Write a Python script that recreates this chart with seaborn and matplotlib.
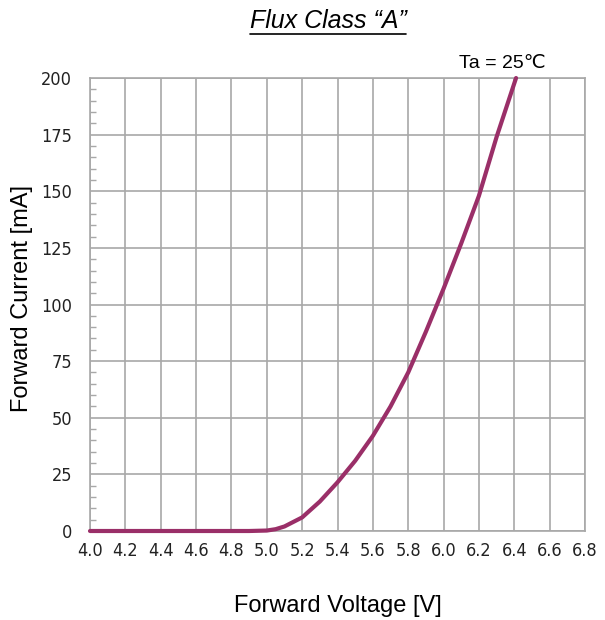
import matplotlib
matplotlib.use("Agg")
import matplotlib.pyplot as plt
from matplotlib.lines import Line2D
from matplotlib.ticker import MultipleLocator
from matplotlib import font_manager
import seaborn as sns
import pandas as pd

# Forward voltage (V) vs forward current (mA), Ta = 25 °C
voltage = [4.0, 4.5, 4.9, 5.0, 5.05, 5.1, 5.2, 5.3, 5.4, 5.5, 5.6, 5.7,
           5.8, 5.9, 6.0, 6.1, 6.2, 6.3, 6.41]
current = [0, 0, 0, 0.2, 0.8, 2, 6, 13, 21.5, 31, 42, 55,
           70, 88, 107, 127, 148, 174, 200]

x_ticks = [4.0, 4.2, 4.4, 4.6, 4.8, 5.0, 5.2, 5.4, 5.6, 5.8, 6.0, 6.2, 6.4, 6.6, 6.8]
y_ticks = [0, 25, 50, 75, 100, 125, 150, 175, 200]

sns.set_style("white")
plt.rcParams["font.family"] = ["Liberation Sans", "DejaVu Sans"]
plt.rcParams["text.color"] = "black"
plt.rcParams["axes.labelcolor"] = "black"

# narrow face for tick numbers
names = {f.name for f in font_manager.fontManager.ttflist}
if "Liberation Sans Narrow" in names:
    tick_props = dict(family="Liberation Sans Narrow")
else:
    tick_props = dict(family="DejaVu Sans", stretch="condensed")

df = pd.DataFrame({"Forward Voltage [V]": voltage, "Forward Current [mA]": current})

fig = plt.figure(figsize=(6.05, 6.2), dpi=100)
ax = fig.add_axes([90 / 605, 1 - 531 / 620, 495 / 605, 453 / 620])

grid_c = "#a8a8a8"
sns.lineplot(data=df, x="Forward Voltage [V]", y="Forward Current [mA]", ax=ax,
             color="#9a2f68", linewidth=3.0, clip_on=False, zorder=5)

ax.set_xlim(4.0, 6.8)
ax.set_ylim(0, 200)
ax.set_xticks(x_ticks)
ax.set_xticklabels([f"{v:.1f}" for v in x_ticks])
ax.set_yticks(y_ticks)
ax.set_yticklabels([str(v) for v in y_ticks])
ax.yaxis.set_minor_locator(MultipleLocator(5))

ax.grid(True, which="major", color=grid_c, linewidth=1.2)
for s in ax.spines.values():
    s.set_color(grid_c)
    s.set_linewidth(1.2)

ax.tick_params(axis="both", which="major", length=0, labelsize=13, labelcolor="#222222")
ax.tick_params(axis="y", which="major", pad=13)
ax.tick_params(axis="x", which="major", pad=8)
ax.tick_params(axis="y", which="minor", direction="in", length=4, width=1.0,
               color=grid_c, left=True)
for lbl in ax.get_xticklabels() + ax.get_yticklabels():
    lbl.set_fontfamily(tick_props["family"])
    if "stretch" in tick_props:
        lbl.set_fontstretch(tick_props["stretch"])

ax.set_xlabel("Forward Voltage [V]", fontsize=17)
ax.set_ylabel("Forward Current [mA]", fontsize=17)
ax.xaxis.set_label_coords((338 - 90) / 495, (531 - 606) / 453)
ax.yaxis.set_label_coords((22 - 90) / 495, (531 - 299) / 453)
ax.xaxis.label.set_va("center")
ax.yaxis.label.set_va("center")

title = fig.text(328 / 605, 1 - 21 / 620, "Flux Class \u201cA\u201d", fontsize=18,
                 style="italic", ha="center", va="center")
fig.text(502 / 605, 1 - 63 / 620, "Ta = 25\u2103", fontsize=14,
         ha="center", va="center")

# underline the title
fig.canvas.draw()
bb = title.get_window_extent()
uy = bb.y0 - 1
fig.add_artist(Line2D([bb.x0, bb.x1], [uy, uy], transform=None,
                      color="black", linewidth=1.2))

fig.savefig("out.png", dpi=100)
